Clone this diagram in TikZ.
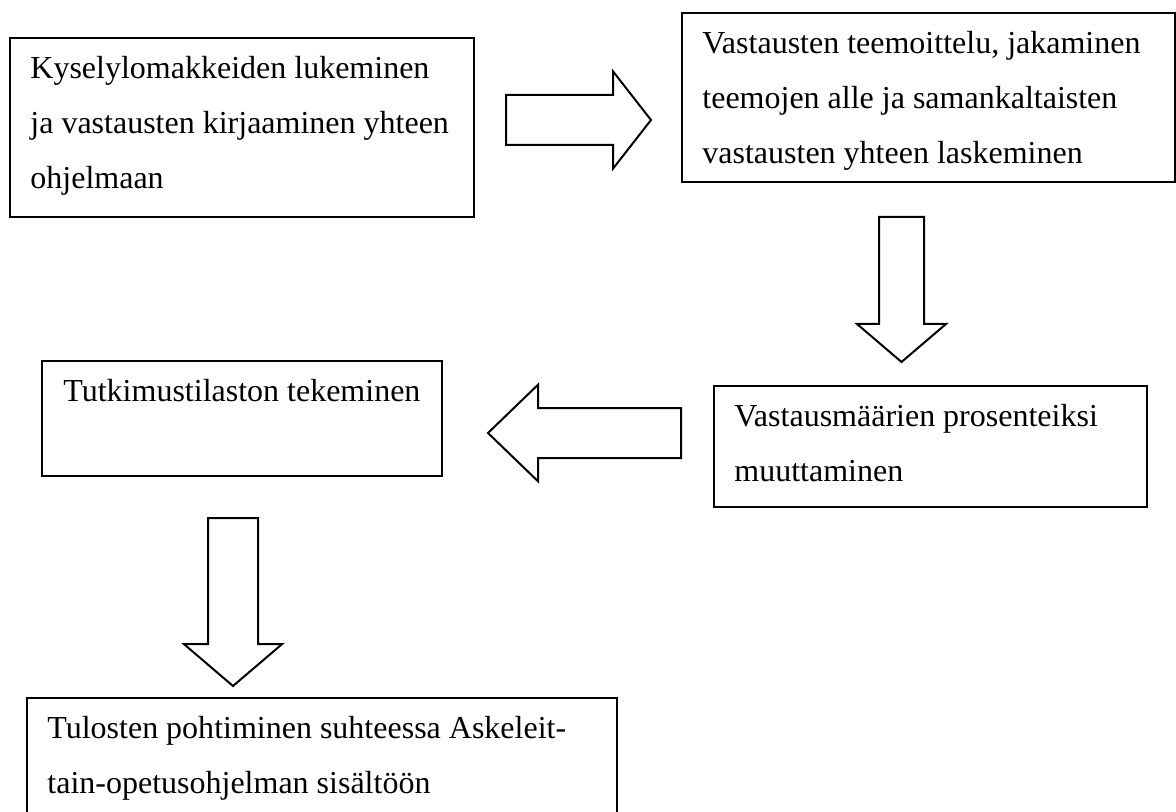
\documentclass[tikz,border=0pt]{standalone}
\usepackage{fontspec}
\setmainfont{Liberation Serif}
\usetikzlibrary{calc,shapes.arrows}

\tikzset{
  stepbox/.style={draw, line width=1.2pt, rectangle, inner sep=0pt, anchor=north west},
  steptext/.style={align=left, inner sep=0pt, anchor=north west, font=\fontsize{16pt}{27.5pt}\selectfont},
  blockarrow/.style={draw, line width=1pt, single arrow, inner xsep=0pt, single arrow head indent=0pt, anchor=tail}
}

\begin{document}
\begin{tikzpicture}[x=0.5pt, y=-0.5pt]
        \clip (0,0) rectangle (1176,812);
        % laatikot
        \node[stepbox, minimum width=232pt, minimum height=89.5pt] (kysely) at (9,37) {};
        \node[stepbox, minimum width=246.5pt, minimum height=84.5pt] (teemat) at (681,12) {};
        \node[stepbox, minimum width=216.5pt, minimum height=60.5pt] (prosentit) at (713,385) {};
        \node[stepbox, minimum width=200pt, minimum height=57.5pt] (tilasto) at (41,360) {};
        \node[stepbox, minimum width=295pt, minimum height=66.5pt] (vertailu) at (26,697) {};
        % tekstit
        \node[steptext] (kysely-t) at ($(kysely.north west)+(21,2.5)$) {\strut Kyselylomakkeiden lukeminen\\ja vastausten kirjaaminen yhteen\\ohjelmaan};
        \node[steptext] (teemat-t) at ($(teemat.north west)+(21,2.5)$) {\strut Vastausten teemoittelu, jakaminen\\teemojen alle ja samankaltaisten\\vastausten yhteen laskeminen};
        \node[steptext] (prosentit-t) at ($(prosentit.north west)+(21,2.5)$) {\strut Vastausmäärien prosenteiksi\\muuttaminen};
        \node[steptext] (tilasto-t) at ($(tilasto.north west)+(22,2.5)$) {\strut Tutkimustilaston tekeminen};
        \node[steptext] (vertailu-t) at ($(vertailu.north west)+(21,2.5)$) {\strut Tulosten pohtiminen suhteessa Askeleit-\\tain-opetusohjelman sisältöön};
        % nuolet
        \node[blockarrow, inner ysep=12pt, minimum height=72.5pt, single arrow head extend=11.75pt, single arrow tip angle=104] (nuoli1) at (505,120) {};
        \node[blockarrow, rotate=-90, inner ysep=10.75pt, minimum height=72.5pt, single arrow head extend=11pt, single arrow tip angle=99] (nuoli2) at (901.5,216) {};
        \node[blockarrow, rotate=180, inner ysep=12pt, minimum height=96.5pt, single arrow head extend=11.75pt, single arrow tip angle=88] (nuoli3) at (682,433) {};
        \node[blockarrow, rotate=-90, inner ysep=12pt, minimum height=84pt, single arrow head extend=12pt, single arrow tip angle=99] (nuoli4) at (233,517) {};
    \end{tikzpicture}
\end{document}
